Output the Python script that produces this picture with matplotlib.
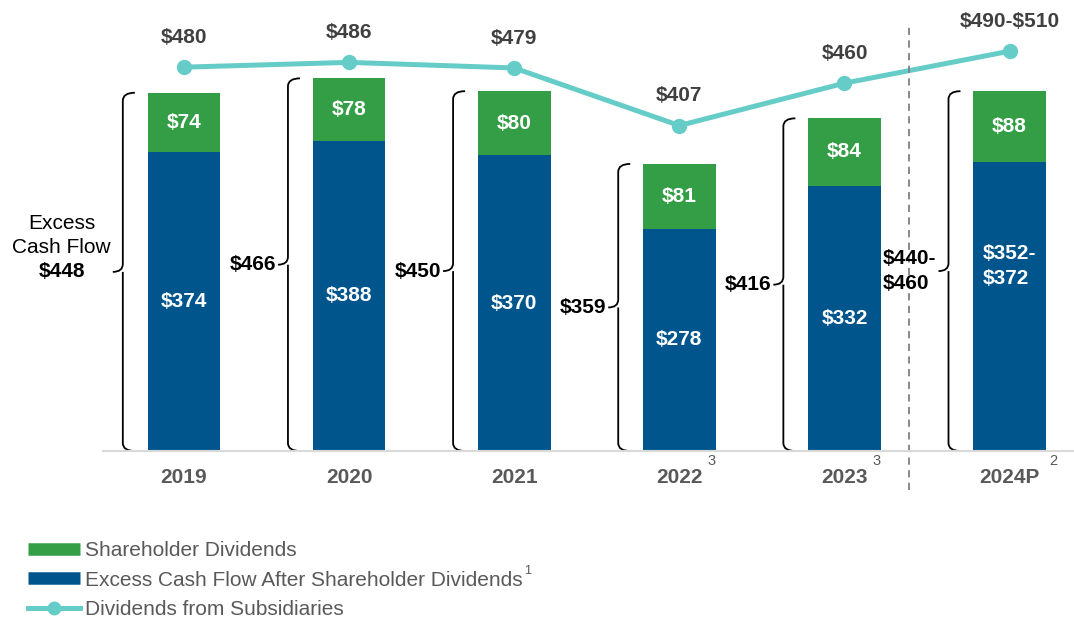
import numpy as np
import matplotlib
matplotlib.use("Agg")
import matplotlib.pyplot as plt
from matplotlib.path import Path
from matplotlib.patches import PathPatch
from matplotlib.lines import Line2D

plt.rcParams['font.family'] = ['Liberation Sans', 'DejaVu Sans']

# datos
anios = ['2019', '2020', '2021', '2022', '2023', '2024P']
superindices = ['', '', '', '3', '3', '2']
dividendos_accionistas = [74, 78, 80, 81, 84, 88]
flujo_despues = [374, 388, 370, 278, 332, 362]
etiquetas_azul = ['\\$374', '\\$388', '\\$370', '\\$278', '\\$332', '\\$352-\n\\$372']
totales = [448, 466, 450, 359, 416, 450]
etiquetas_total = ['\\$448', '\\$466', '\\$450', '\\$359', '\\$416', '\\$440-\n\\$460']
dividendos_subs = [480, 486, 479, 407, 460, 500]
etiquetas_subs = ['\\$480', '\\$486', '\\$479', '\\$407', '\\$460', '\\$490-\\$510']

verde = '#339E45'
azul = '#00558C'
turquesa = '#66CCC8'
gris = '#595959'

fig = plt.figure(figsize=(10.74, 6.21), dpi=100)
ax = fig.add_axes([103/1074, 170/621, 971/1074, 451/621])
x = np.arange(len(anios))
ax.set_xlim(-0.49, 5.39)
ax.set_ylim(0, 564)

ax.bar(x, flujo_despues, width=0.44, color=azul)
ax.bar(x, dividendos_accionistas, width=0.44, bottom=flujo_despues, color=verde)
ax.plot(x, dividendos_subs, color=turquesa, lw=3.6, marker='o', ms=10)

for i in range(len(x)):
    ax.text(x[i], flujo_despues[i] + dividendos_accionistas[i] / 2, '\\$' + str(dividendos_accionistas[i]),
            ha='center', va='center', color='white', fontsize=15, fontweight='bold')
    yb = flujo_despues[i] / 2 if i < 5 else flujo_despues[i] * 0.64
    ax.text(x[i], yb, etiquetas_azul[i], ha='center', va='center', color='white',
            fontsize=15, fontweight='bold', multialignment='left', linespacing=1.4)
    ax.text(x[i], dividendos_subs[i] + 37, etiquetas_subs[i], ha='center', va='center',
            color='#404040', fontsize=15, fontweight='bold')

# llaves
def llave(xb, y0, y1):
    w = 12 / 165
    t = 10 / 165
    r = 10
    ym = (y0 + y1) / 2
    verts = [(xb + w, y1), (xb, y1), (xb, y1 - r),
             (xb, ym + r), (xb, ym), (xb - t, ym),
             (xb, ym), (xb, ym - r),
             (xb, y0 + r), (xb, y0), (xb + w, y0)]
    codes = [Path.MOVETO, Path.CURVE3, Path.CURVE3,
             Path.LINETO, Path.CURVE3, Path.CURVE3,
             Path.MOVETO, Path.LINETO,
             Path.LINETO, Path.CURVE3, Path.CURVE3]
    ax.add_patch(PathPatch(Path(verts, codes), fill=False, lw=1.3, color='black', clip_on=False))
    return xb - t, ym

for i in range(len(x)):
    xt, ym = llave(x[i] - 0.37, 0, totales[i])
    if i == 0:
        ax.text(-0.74, ym + 19, 'Excess\nCash Flow', ha='center', va='bottom', fontsize=15,
                linespacing=1.3)
        ax.text(-0.74, ym, etiquetas_total[i], ha='center', va='center', fontsize=15,
                fontweight='bold')
    else:
        ax.text(xt - 0.012, ym, etiquetas_total[i], ha='right', va='center', fontsize=15,
                fontweight='bold', multialignment='left', linespacing=1.4)

# linea divisoria
ax.plot([4.388, 4.388], [-49, 532], ls=(0, (4, 3)), color='#7F7F7F', lw=1.3, clip_on=False)

for s in ['top', 'right', 'left']:
    ax.spines[s].set_visible(False)
ax.spines['bottom'].set_color('#D9D9D9')
ax.spines['bottom'].set_linewidth(1.5)
ax.set_yticks([])
ax.set_xticks(x)
ax.set_xticklabels(anios, fontsize=15, fontweight='bold', color=gris)
ax.tick_params(axis='x', length=0, pad=12)

for i in range(len(x)):
    if superindices[i]:
        ax.text(x[i] + (0.195 if i < 5 else 0.265), -12, superindices[i], ha='center', va='center',
                fontsize=10.5, color=gris, clip_on=False)

# leyenda
manejadores = [Line2D([], [], color=verde, lw=9, solid_capstyle='butt'),
               Line2D([], [], color=azul, lw=9, solid_capstyle='butt'),
               Line2D([], [], color=turquesa, lw=3.6, marker='o', ms=9)]
nombres = ['Shareholder Dividends', 'Excess Cash Flow After Shareholder Dividends',
           'Dividends from Subsidiaries']
leg = fig.legend(manejadores, nombres, loc='upper left', bbox_to_anchor=(20/1074, 1 - 533/621),
                 frameon=False, fontsize=15, handlelength=2.5, handletextpad=0.2,
                 labelspacing=0.5, borderaxespad=0)
for t in leg.get_texts():
    t.set_color(gris)
fig.text(528/1074, 1 - 571/621, '1', fontsize=9, color=gris, ha='center', va='center')

fig.savefig('out.png', dpi=100)
